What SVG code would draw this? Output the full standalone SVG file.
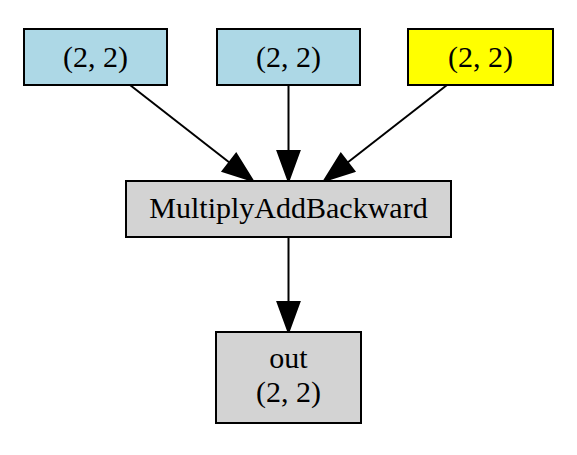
<svg xmlns="http://www.w3.org/2000/svg" width="577" height="455" viewBox="0 0 577 455">
<style>
.box{stroke:#000;stroke-width:2}
.lb{fill:#add8e6}.yl{fill:#ffff00}.gr{fill:#d3d3d3}
text{font-family:"Liberation Serif","Times New Roman",serif;font-size:30px;fill:#000;text-anchor:middle}
.edge{stroke:#000;stroke-width:2;fill:none}
</style>
<defs>
<marker id="ah" markerUnits="userSpaceOnUse" markerWidth="31" markerHeight="24" refX="0" refY="11" orient="auto" overflow="visible">
<path d="M0,0 L30,11 L0,22 Z" fill="#000" stroke="#000" stroke-width="2"/>
</marker>
</defs>
<rect width="577" height="455" fill="#fff"/>
<g id="connectors">
<path class="edge" d="M130,85 L229.4,162.5" marker-end="url(#ah)"/>
<path class="edge" d="M288.5,85 L288.5,151" marker-end="url(#ah)"/>
<path class="edge" d="M447,85 L347.6,162.5" marker-end="url(#ah)"/>
<path class="edge" d="M288.5,237 L288.5,302" marker-end="url(#ah)"/>
</g>
<g id="in1"><rect class="box lb" x="24" y="29" width="143" height="56"/><text x="95.5" y="67">(2, 2)</text></g>
<g id="in2"><rect class="box lb" x="217" y="29" width="143" height="56"/><text x="288.5" y="67">(2, 2)</text></g>
<g id="in3"><rect class="box yl" x="408" y="29" width="145" height="56"/><text x="480.5" y="67">(2, 2)</text></g>
<g id="mab"><rect class="box gr" x="126" y="181" width="325" height="56"/><text x="288.5" y="218">MultiplyAddBackward</text></g>
<g id="out"><rect class="box gr" x="216" y="332" width="145" height="91"/><text x="288.5" y="368">out</text><text x="288.5" y="402">(2, 2)</text></g>
</svg>
